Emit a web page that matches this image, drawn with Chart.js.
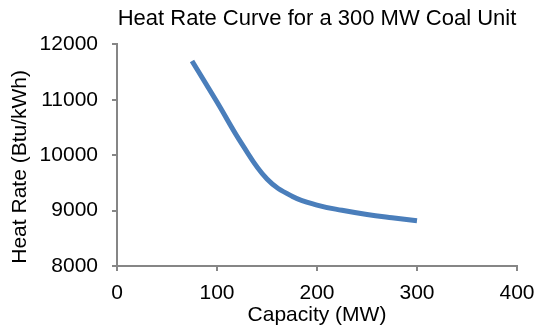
<!DOCTYPE html>
<html>
<head>
<meta charset="utf-8">
<script src="https://cdn.jsdelivr.net/npm/chart.js@4"></script>
<style>
    html, body { margin: 0; padding: 0; background: #fff; }
    #chart { display: block; }
</style>
</head>
<body>
<canvas id="chart" width="541" height="328"></canvas>
<script>
const capacity = [75, 100, 125, 150, 175, 200, 225, 250, 275, 300];
const heatRate = [11700, 10960, 10200, 9570, 9260, 9100, 9005, 8930, 8870, 8815];
const xTicks = [0, 100, 200, 300, 400];
const yTicks = [8000, 9000, 10000, 11000, 12000];

const axisGray = "#868686";
const font = "'Liberation Sans', Arial, sans-serif";

new Chart(document.getElementById("chart"), {
    type: "line",
    data: {
        datasets: [{
            data: capacity.map((x, i) => ({ x, y: heatRate[i] })),
            borderColor: "#4A7EBB",
            borderWidth: 5,
            pointRadius: 0,
            tension: 0.4,
            fill: false,
        }],
    },
    options: {
        responsive: false,
        animation: false,
        layout: { padding: { left: 0, right: 24, top: 0, bottom: 0 } },
        plugins: {
            legend: { display: false },
            tooltip: { enabled: false },
            title: {
                display: true,
                fullSize: false,
                text: "Heat Rate Curve for a 300 MW Coal Unit",
                color: "#000",
                font: { family: font, size: 22, weight: "normal" },
                padding: { top: 6, bottom: 12 },
                align: "center",
            },
        },
        scales: {
            x: {
                type: "linear",
                min: xTicks[0],
                max: xTicks[xTicks.length - 1],
                afterBuildTicks: (s) => { s.ticks = xTicks.map((v) => ({ value: v })); },
                afterFit: (s) => {
                    s.height = 62;
                    s.paddingLeft = 0;
                    s.paddingRight = 0;
                },
                border: { color: axisGray, width: 2 },
                grid: { drawOnChartArea: false, color: axisGray, lineWidth: 2, tickLength: 5 },
                ticks: {
                    color: "#000",
                    font: { family: font, size: 21 },
                    padding: 10,
                    maxRotation: 0,
                    callback: (v) => String(v),
                },
                title: {
                    display: true,
                    text: "Capacity (MW)",
                    color: "#000",
                    font: { family: font, size: 21 },
                    padding: { top: -6, bottom: 0 },
                },
            },
            y: {
                min: yTicks[0],
                max: yTicks[yTicks.length - 1],
                afterBuildTicks: (s) => { s.ticks = yTicks.map((v) => ({ value: v })); },
                afterFit: (s) => { s.width = 117; },
                border: { color: axisGray, width: 2 },
                grid: { drawOnChartArea: false, color: axisGray, lineWidth: 2, tickLength: 5 },
                ticks: {
                    color: "#000",
                    font: { family: font, size: 21 },
                    padding: 14,
                    callback: (v) => String(v),
                },
                title: {
                    display: true,
                    text: "Heat Rate (Btu/kWh)    ",
                    color: "#000",
                    font: { family: font, size: 21 },
                    padding: { top: 8, bottom: 0 },
                },
            },
        },
    },
});
</script>
</body>
</html>
